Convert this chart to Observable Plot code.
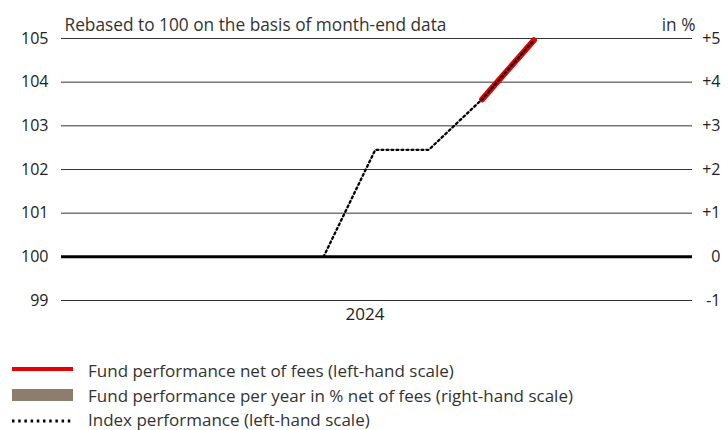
<!DOCTYPE html>
<html><head><meta charset="utf-8">
<script src="https://cdn.jsdelivr.net/npm/d3@7"></script>
<script src="https://cdn.jsdelivr.net/npm/@observablehq/plot@0.6"></script>
<style>
body{margin:0;background:#fff;font-family:"Open Sans",sans-serif;}
#wrap{width:728px;height:430px;overflow:hidden;}
#wrap svg{display:block;}
</style></head><body><div id="wrap"></div>
<script>
// Data (month-end, rebased to 100)
const indexDates = ["2024-05-31","2024-06-30","2024-07-31","2024-08-31","2024-09-30"];
const indexValues = [100, 102.45, 102.45, 103.61, 104.96];
const fundDates = ["2024-08-31","2024-09-30"];
const fundValues = [103.61, 104.96];
const leftTicks = [99, 100, 101, 102, 103, 104, 105];
const rightTickLabels = ["-1", "0", "+1", "+2", "+3", "+4", "+5"];
const yearTick = "2024-06-24";
const xDomain = ["2023-12-31", "2024-12-31"];
const titleText = "Rebased to 100 on the basis of month-end data";
const unitText = "in %";
const legendLabels = [
  "Fund performance net of fees (left-hand scale)",
  "Fund performance per year in % net of fees (right-hand scale)",
  "Index performance (left-hand scale)"
];

const indexData = indexDates.map((d, i) => ({date: new Date(d), value: indexValues[i]}));
const fundData = fundDates.map((d, i) => ({date: new Date(d), value: fundValues[i]}));

const chart = Plot.plot({
  width: 728,
  height: 340,
  marginLeft: 61,
  marginRight: 36,
  marginTop: 38,
  marginBottom: 40,
  style: {fontFamily: "Open Sans", fontSize: "16px", color: "#222", overflow: "visible"},
  x: {type: "utc", domain: xDomain.map(d => new Date(d))},
  y: {domain: [99, 105]},
  marks: [
    Plot.ruleY(leftTicks.filter(d => d !== 100), {stroke: "#333", strokeWidth: 1}),
    Plot.ruleY([100], {stroke: "#000", strokeWidth: 3}),
    Plot.line(fundData, {x: "date", y: "value", stroke: "#e60000", strokeWidth: 6}),
    Plot.line(indexData, {x: "date", y: "value", stroke: "#000", strokeWidth: 2.3, strokeDasharray: "2,3"}),
    Plot.axisY({ticks: leftTicks, tickSize: 0, tickPadding: 13, label: null, fontSize: 16, tickFormat: d => String(d)}),
    Plot.text(leftTicks, {y: d => d, text: (d, i) => rightTickLabels[i], frameAnchor: "right", textAnchor: "end", dx: 28, fontSize: 16, fill: "#222"}),
    Plot.axisX({ticks: [new Date(yearTick)], tickFormat: d3.utcFormat("%Y"), tickSize: 0, tickPadding: 7, label: null, fontSize: 17}),
    Plot.text([titleText], {frameAnchor: "top-left", textAnchor: "start", lineAnchor: "bottom", dx: 3, dy: -8, fontSize: 17.3, fill: "#333"}),
    Plot.text([unitText], {frameAnchor: "top-right", textAnchor: "end", lineAnchor: "bottom", dx: 3, dy: -8, fontSize: 17.3, fill: "#333"})
  ]
});
document.getElementById("wrap").appendChild(chart);

// Legend below the chart
const leg = d3.select("#wrap").append("svg").attr("width", 728).attr("height", 90)
  .style("font-family", "Open Sans").style("font-size", "17px");
leg.append("line").attr("x1", 12).attr("x2", 73).attr("y1", 29).attr("y2", 29)
  .attr("stroke", "#e60000").attr("stroke-width", 4);
leg.append("rect").attr("x", 12).attr("y", 49).attr("width", 61).attr("height", 12).attr("fill", "#8c7d6d");
leg.append("line").attr("x1", 12).attr("x2", 73).attr("y1", 81).attr("y2", 81)
  .attr("stroke", "#000").attr("stroke-width", 3).attr("stroke-dasharray", "2.5,3.7");
const baselines = [37, 62, 86];
legendLabels.forEach((t, i) => {
  leg.append("text").attr("x", 88).attr("y", baselines[i]).attr("fill", "#333").text(t);
});
</script></body></html>
